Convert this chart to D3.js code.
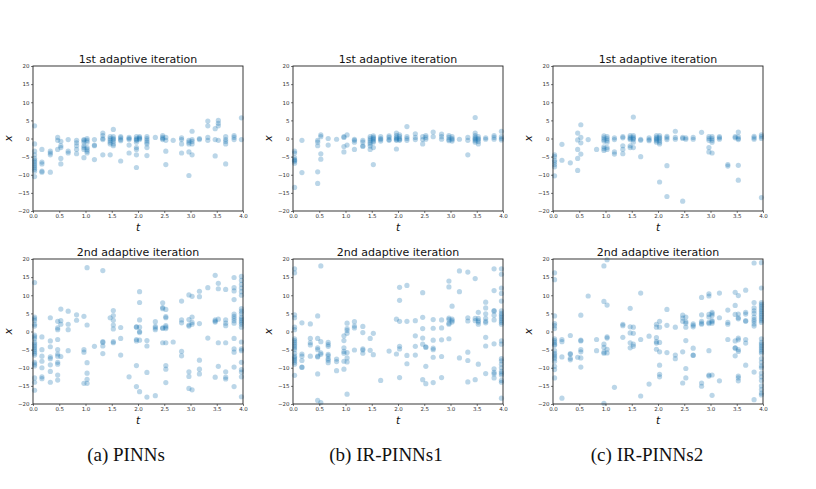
<!DOCTYPE html>
<html>
<head>
<meta charset="utf-8">
<script src="https://cdn.jsdelivr.net/npm/d3@7"></script>
<style>
  body { margin: 0; background: #fff; }
  .tick text { font-family: "DejaVu Sans", sans-serif; font-size: 5.5px; fill: #333; }
  .tick line { stroke: #222; stroke-width: 0.6; }
</style>
</head>
<body>
<div id="chart"></div>
<script>
// t-axis ticks and x-axis ticks
const tTicks = [0, 0.5, 1, 1.5, 2, 2.5, 3, 3.5, 4];
const xTicks = [-20, -15, -10, -5, 0, 5, 10, 15, 20];
const titles = ['1st adaptive iteration', '2nd adaptive iteration'];
const captions = ['(a) PINNs', '(b) IR-PINNs1', '(c) IR-PINNs2'];

// each entry: [t, list of x values at that t]
const pinnsIter1 = [
  [0.03, [3.5, -1.5, -3.5, -4.5, -5.5, -6, -6.5, -7, -7.5, -8, -8.5, -9, -10.5]],
  [0.17, [-3, -6.5, -7, -9, -9.3]],
  [0.33, [-3.5, -4, -4.5, -9.3]],
  [0.47, [0.3, -0.5, -3]],
  [0.53, [-0.8, -2, -2.5, -5.5, -7]],
  [0.67, [-0.3, -3.5, -4]],
  [0.83, [-0.5, -1.2, -2, -3, -4.2]],
  [0.97, [-0.3, -0.5, -1, -2, -2.5, -3, -5.3]],
  [1.03, [0, -0.5, -1, -2.5, -3, -3.5, -4]],
  [1.17, [-0.3, -1.8, -2, -5.8]],
  [1.33, [1.5, 0.8, 0, -0.3, -4.5]],
  [1.47, [0.5, 0, -0.5, -1, -1.5, -4.5]],
  [1.53, [2.5, 0.5, 0, -0.3, -0.8, -1.5, -2]],
  [1.67, [0.5, 0.2, -0.3, -0.6, -6.2]],
  [1.83, [0.3, 0, -0.3, -1.8, -4]],
  [1.97, [0.5, 0, -0.3, -0.5, -1, -2.5, -3, -4.5, -8]],
  [2.03, [0.5, 0.2, 0, -0.3]],
  [2.17, [0.5, 0, -0.5, -1, -1.5, -2.5, -4.7]],
  [2.33, [0.3]],
  [2.47, [0.8, 0.3, 0, -0.3]],
  [2.53, [0.3, -0.5, -3.5, -7.2]],
  [2.67, [-0.5]],
  [2.83, [0.2, -0.3, -1.5, -4]],
  [2.97, [-0.5, -1, -1.5, -3.7, -10.2]],
  [3.03, [2, -0.3, -0.8, -1.5, -4.5]],
  [3.17, [0, -0.3]],
  [3.33, [4.8, 3.5, 0.3, -0.5]],
  [3.47, [2.7, -0.3, -4.8]],
  [3.53, [5, 4.2, 3.5, -0.5]],
  [3.67, [0.5, -0.3, -0.8, -1.5, -7]],
  [3.83, [0.8, 0.3, -0.3]],
  [3.97, [5.7, -0.3]]
];

const irpinns1Iter1 = [
  [0.03, [-3.5, -4, -5.3, -5.8, -6, -6.3, -6.8, -13.5]],
  [0.17, [-0.5, -9.4]],
  [0.47, [-0.5, -1, -2, -9.2, -12.4]],
  [0.53, [1, 0.5, -4.2, -5.7]],
  [0.67, [0, -1.8]],
  [0.83, [-0.2]],
  [0.97, [0.5, 0.3, -2.2, -3.7]],
  [1.03, [1, -1.8]],
  [1.17, [-0.2, -0.5, -1, -3]],
  [1.33, [-0.5, -1, -2, -2.2]],
  [1.47, [0.5, 0, -0.5, -1, -1.5, -2.1, -3]],
  [1.53, [0.7, 0.3, 0, -0.3, -0.7, -1, -2.5, -7.2]],
  [1.67, [0.5, 0, -0.3, -0.7]],
  [1.83, [0.7, 0.3, -0.3, -0.5]],
  [1.97, [1.5, 0.8, 0.3, 0, -0.3, -0.5, -2.9]],
  [2.03, [1, 0.5, 0, -0.3, -0.5]],
  [2.17, [3.3, 0.5, 0, -0.5]],
  [2.33, [1.3, 0.3, -0.3]],
  [2.47, [0.5, -0.3, -1.5]],
  [2.53, [0.8, 0.3, -0.2]],
  [2.67, [1.8, 0.5]],
  [2.83, [1.2, 0.5, -0.2]],
  [2.97, [0.8, 0.3, -0.3, -0.6]],
  [3.03, [0.5, 0, -0.3, -0.7]],
  [3.17, [-0.2]],
  [3.33, [0.3, -0.5, -4.5]],
  [3.47, [5.8, 1.5, 0.8, 0.3, 0, -0.3, -0.6, -1]],
  [3.53, [0.5, 0, -0.3, -0.8, -1.5]],
  [3.67, [0.2, -0.2]],
  [3.83, [0.8, 0.3, -0.2]],
  [3.97, [2, 0.5, 0, -0.4]]
];

const irpinns2Iter1 = [
  [0.03, [-4.5, -5, -6, -6.5, -7.2, -7.8, -10.3]],
  [0.17, [-1.6, -6]],
  [0.33, [-6.7]],
  [0.47, [1.5, -0.4, -3, -5.5, -8.8]],
  [0.53, [3.8, 0.3, -1.2, -4.3]],
  [0.67, [-0.3]],
  [0.83, [-3]],
  [0.97, [0.7, 0.2, -0.3, -0.7, -2.3, -2.8, -3.3]],
  [1.03, [0.5, 0, -0.5, -1, -2.5, -3]],
  [1.17, [0.2, -0.3, -3.7, -4.3]],
  [1.33, [0.5, 0.2, -2, -3, -4.2]],
  [1.47, [0.8, 0.3, 0, -0.3, -2, -2.5]],
  [1.53, [5.9, 0.8, 0.3, 0, -0.3, -1, -2.5]],
  [1.67, [-0.2, -0.5, -5]],
  [1.83, [0.2, -0.3, -0.6]],
  [1.97, [0.8, 0.3, 0, -0.3, -0.6, -1]],
  [2.03, [0.8, 0.3, 0, -0.5, -1, -1.5, -12]],
  [2.17, [0.6, 0.2, -0.3, -7.5, -16]],
  [2.33, [2, 0.3, -0.2]],
  [2.47, [0.3, 0, -17.3]],
  [2.53, [0.2, -0.2]],
  [2.67, [0.3, -0.2]],
  [2.83, [1.7]],
  [2.97, [0.5, 0, -0.5, -2.5, -3.7]],
  [3.03, [0.5, 0, -0.5, -1, -4]],
  [3.17, [0.5, 0.2, -0.2]],
  [3.33, [-7.2, -7.6]],
  [3.47, [0.5, 0.2]],
  [3.53, [1.8, 0.5, 0, -0.3, -7.4, -11.5]],
  [3.83, [0.6, 0.2, -0.2]],
  [3.97, [1, 0.5, 0, -16.3]]
];

const pinnsIter2 = [
  [0.03, [13.5, 4, 3.5, 3, 2, 1.5, -1, -1.5, -2, -3, -3.5, -4, -4.5, -5, -5.5, -6, -6.5, -8.5, -9, -9.5, -12.8, -14, -16.2]],
  [0.17, [-1.5, -5, -6.8, -8.2, -10, -12.5, -13]],
  [0.33, [3.8, -2.6, -4.2, -7, -7.5, -9.2, -11, -14]],
  [0.47, [2.8, 1, 0.5, -2.2, -5, -6.2, -6.8, -8.5, -9, -12, -13.4]],
  [0.53, [6.2, 3, 2, -6.9]],
  [0.67, [5.6, 2, 0.5, -5.3]],
  [0.83, [4.6, 3.1]],
  [0.97, [4.2, -5, -5.7, -14.3]],
  [1.03, [17.6, 1.8, -8.6, -11.5, -13.2, -14.3]],
  [1.17, [-4.1]],
  [1.33, [16.8, -2.8, -3, -4, -6.1]],
  [1.47, [3.8]],
  [1.53, [5.8, 4.4, 3.1, 1.8, 0.7, -2.8, -3.1]],
  [1.67, [1.1, -1.9, -6.5]],
  [1.83, [-12.5]],
  [1.97, [1.3, 1.2, -2.2, -2.6, -9.4, -15.2]],
  [2.03, [11, 8, 3.2, 1.2, 0, -0.3, -2.4, -16.6]],
  [2.17, [-2.5, -4, -11.3, -18.1]],
  [2.33, [2.7, 1.4, 1, 0.5, -17.7]],
  [2.47, [7.9, 6.6, 6.3, 1, 0.9, -3.1]],
  [2.53, [6.1, 4.1, 3.8, 1.6, 1.2, 0.8, -3.1, -9.4, -10.4, -14.1]],
  [2.67, [-2.9]],
  [2.83, [8.4, 3.2, 2.4, -5.5, -6.7]],
  [2.97, [10.1, 3.3, 1.8, 1.5, -11.1, -12.4, -15.7]],
  [3.03, [9.7, 4, 2.5, 2, -16.1]],
  [3.17, [11.1, 9.6, 2.2, -7.9, -10.4, -11.7]],
  [3.33, [12.1, -1.8]],
  [3.47, [15.5, 3.2, 2.9, 2.6, -12.6]],
  [3.53, [13.3, 11.8, 3.4, -3.1, -9.6]],
  [3.67, [11.6, 3.2, 2.3, 1.6, -3.1, -11.1, -12.6, -13.1]],
  [3.83, [14.9, 12.1, 11.2, 8.8, 4.8, 4.2, 3.6, 3, 2.3, -1.9, -4.8, -5.7, -9.8, -15.2]],
  [3.97, [15.2, 14.1, 13, 12, 11, 10, 6.3, 5.6, 5, 4, 3.5, 3, 2.5, 2, 1.2, -2.9, -4.8, -5.3, -8.5, -10.5, -11.2, -12.5, -18]]
];

const irpinns1Iter2 = [
  [0.03, [17.3, 16.2, 4.6, 3.8, 1.2, 0.5, -2, -2.5, -3, -3.5, -4, -4.5, -5, -6, -6.8, -7.2, -7.6, -8, -8.5, -9, -12.1]],
  [0.17, [2.4, -6.2, -6.8, -8, -9.8, -9.9]],
  [0.33, [2.1, -1.9, -3.1, -3.7, -6.8]],
  [0.47, [4.3, -1.9, -4.5, -5, -6.8, -7, -11.7, -19]],
  [0.53, [18.1, -2.8, -5.9, -6.3, -19.6]],
  [0.67, [-3, -3.6, -4.1, -6.3, -6.7, -7.5, -7.9, -8.6]],
  [0.83, [-7.6, -8.3, -10.8]],
  [0.97, [-1.2, -2.5, -4.5, -5.5, -6, -8.2, -10.4]],
  [1.03, [2.3, 0.8, 0.3, -0.5, -5.8, -7.3, -8.4, -17.3]],
  [1.17, [2.7, 1.5, 1, -5.1]],
  [1.33, [1.4, -0.3, -4.8, -5.1, -6]],
  [1.47, [-1.9, -5.2]],
  [1.53, [-0.5, -6.4]],
  [1.67, [-13.5]],
  [1.83, [-5.4]],
  [1.97, [3.4, -6.2]],
  [2.03, [12.2, 8.6, 2.8, -4.1, -4.8, -12.7]],
  [2.17, [12.7, 2.8, -6.6, -8.9]],
  [2.33, [3, -1.2, -4.1, -6.5]],
  [2.47, [10.7, 3.9, 0.8, -1.8, -3.5, -13.3]],
  [2.53, [-4.2, -4.4, -9.6, -14.4]],
  [2.67, [3.3, 0.9, -2.4, -4.6, -5, -7.1, -14.1]],
  [2.83, [3.2, 1, -2.3, -6.9, -12.7]],
  [2.97, [13.9, 12.3, 3.7, 3.3, 2.3, 2, -2]],
  [3.03, [7, 3.4, 3, 2.6]],
  [3.17, [16.7, 11, -7.3]],
  [3.33, [16.4, 3.8, 2.9, -5.7, -8, -13.9]],
  [3.47, [14.6, 3.6, 3, -13.3]],
  [3.53, [5.3, 3.6, 3, 2.6, 2, -9]],
  [3.67, [8.1, 6.5, 4.9, 3.6, 2.8, 2.4, -1.6, -4, -11.6]],
  [3.83, [17.3, 11.3, 5.8, 5.6, 4.5, 3.2, -3.4, -10.3, -11.3, -11.7, -12.8]],
  [3.97, [17.3, 15.8, 12, 10.5, 8.4, 5.7, 5, 4.5, 4, 3.5, 3, 2.5, 2, -2.6, -3.5, -7.5, -8.1, -9, -10, -11, -11.5, -12, -13.5, -14, -18.4]]
];

const irpinns2Iter2 = [
  [0.03, [16.2, 14.3, 4.3, 2.2, 1.6, 0.8, -2, -2.5, -3, -3.5, -3.8, -5.3, -6, -6.5, -7, -7.5, -8.2, -9.6, -10.5, -12.8]],
  [0.17, [-2.2, -2.8, -7, -18.4]],
  [0.33, [-1.1, -6.1, -6.3, -7.4, -7.8]],
  [0.47, [-7.1]],
  [0.53, [4.5, -2.4, -2.6, -5, -5.6, -7.3, -9.8]],
  [0.67, [9.8]],
  [0.83, [-2.2, -5.3]],
  [0.97, [18.1, 8.3, -3.5, -4.4, -5.7, -6, -19.8]],
  [1.03, [19.8, 7.3, -1.5, -1.8, -4.9, -5.9]],
  [1.17, [-15.4]],
  [1.33, [2, 1.6, -1.6]],
  [1.47, [6.4, 1.3, -0.4, -3.1, -4.5]],
  [1.53, [1.2, -0.5, -3.5, -4.1]],
  [1.67, [10.6, -2.2, -17.8]],
  [1.83, [-1.3, -14.5]],
  [1.97, [2, 1.2, -1.7, -2.8, -3.2, -4.9]],
  [2.03, [2.8, 1.2, -3, -5.6, -9.3, -11.8, -12.5]],
  [2.17, [6.1, 1.7, -5.8]],
  [2.33, [1.2, -6.5, -7.5]],
  [2.47, [4.5, 3.7, 2.8, -5.6, -14.2]],
  [2.53, [4, 2.7, 2.3, 1.2, -2.5, -10.2, -12.8]],
  [2.67, [2.1, 1.7, 1.3, -4.6, -6.5, -6.6]],
  [2.83, [9.4, 4.6, 2.8, 2.3, 2, -14.2, -15.1]],
  [2.97, [10.4, 9.8, 4.7, 4, 2.5, 2.2, -5.3, -12, -12.3]],
  [3.03, [5.3, 4.9, 4.4, 3, 2.7, 2.3, -12, -17.6]],
  [3.17, [10.6, 3.8, -13.6]],
  [3.33, [5.9, 2.5, 2, -2.2]],
  [3.47, [10.8, 7.2, 4.7, -2.6, -4.5, -4.6, -6.7]],
  [3.53, [9.9, 4.8, 3.8, 3.5, -1.8, -2.3, -5, -5.5, -12.3, -12.8, -13.6]],
  [3.67, [11.4, 5.3, 4.8, 3, 2.8, -2.2, -3.2, -9.3]],
  [3.83, [18.9, 8, 6.5, 5.7, 5, 4, 3.3, 2.8, 2.1, 1.5, -11.2, -18.8]],
  [3.97, [19, 12, 8, 7.5, 7, 6.5, 6, 5.5, 5, 4.5, 4, 3.5, 3, 2.5, -2, -3, -3.5, -4, -4.5, -5, -5.5, -6, -7.5, -8.5, -9.5, -10, -11.5, -12.5, -13.5, -15, -16, -17, -17.5]]
];

const panelData = [
  [pinnsIter1, irpinns1Iter1, irpinns2Iter1],
  [pinnsIter2, irpinns1Iter2, irpinns2Iter2]
];

const width = 816, height = 489;
const colLeft = [33, 293, 553];
const rowTop = [66, 259];
const plotW = 210, plotH = 145;
const captionX = [126, 386, 647];

const svg = d3.select('#chart').append('svg')
  .attr('width', width)
  .attr('height', height);

panelData.forEach((row, r) => {
  row.forEach((cols, c) => {
    const g = svg.append('g')
      .attr('transform', `translate(${colLeft[c]}, ${rowTop[r]})`);

    const xScale = d3.scaleLinear().domain([0, 4]).range([0, plotW]);
    const yScale = d3.scaleLinear().domain([-20, 20]).range([plotH, 0]);

    const points = cols.flatMap(([t, xs]) => xs.map(x => ({t, x})));

    g.selectAll('circle')
      .data(points)
      .enter()
      .append('circle')
      .attr('cx', d => xScale(d.t))
      .attr('cy', d => yScale(d.x))
      .attr('r', 2.6)
      .attr('fill', '#1f77b4')
      .attr('fill-opacity', 0.3);

    g.append('rect')
      .attr('width', plotW)
      .attr('height', plotH)
      .attr('fill', 'none')
      .attr('stroke', '#222')
      .attr('stroke-width', 0.9);

    g.append('g')
      .attr('transform', `translate(0, ${plotH})`)
      .call(d3.axisBottom(xScale).tickValues(tTicks).tickFormat(d3.format('.1f')).tickSize(2).tickPadding(1.5))
      .call(a => a.select('.domain').remove());

    g.append('g')
      .call(d3.axisLeft(yScale).tickValues(xTicks).tickFormat(d3.format('d')).tickSize(2).tickPadding(1.5))
      .call(a => a.select('.domain').remove());

    g.append('text')
      .attr('x', plotW / 2)
      .attr('y', -3.5)
      .attr('text-anchor', 'middle')
      .attr('font-family', 'DejaVu Sans, sans-serif')
      .attr('font-size', 11)
      .attr('fill', '#111')
      .text(titles[r]);

    g.append('text')
      .attr('x', plotW / 2)
      .attr('y', plotH + 20)
      .attr('text-anchor', 'middle')
      .attr('font-family', 'DejaVu Sans, sans-serif')
      .attr('font-style', 'italic')
      .attr('font-size', 10.5)
      .attr('fill', '#111')
      .text('t');

    g.append('text')
      .attr('transform', `translate(-21, ${plotH / 2}) rotate(-90)`)
      .attr('text-anchor', 'middle')
      .attr('font-family', 'DejaVu Sans, sans-serif')
      .attr('font-style', 'italic')
      .attr('font-size', 10.5)
      .attr('fill', '#111')
      .text('x');
  });
});

svg.selectAll('.caption')
  .data(captions)
  .enter()
  .append('text')
  .attr('class', 'caption')
  .attr('x', (d, i) => captionX[i])
  .attr('y', 461)
  .attr('text-anchor', 'middle')
  .attr('font-family', 'Liberation Serif, serif')
  .attr('font-size', 19)
  .attr('fill', '#111')
  .text(d => d);
</script>
</body>
</html>
